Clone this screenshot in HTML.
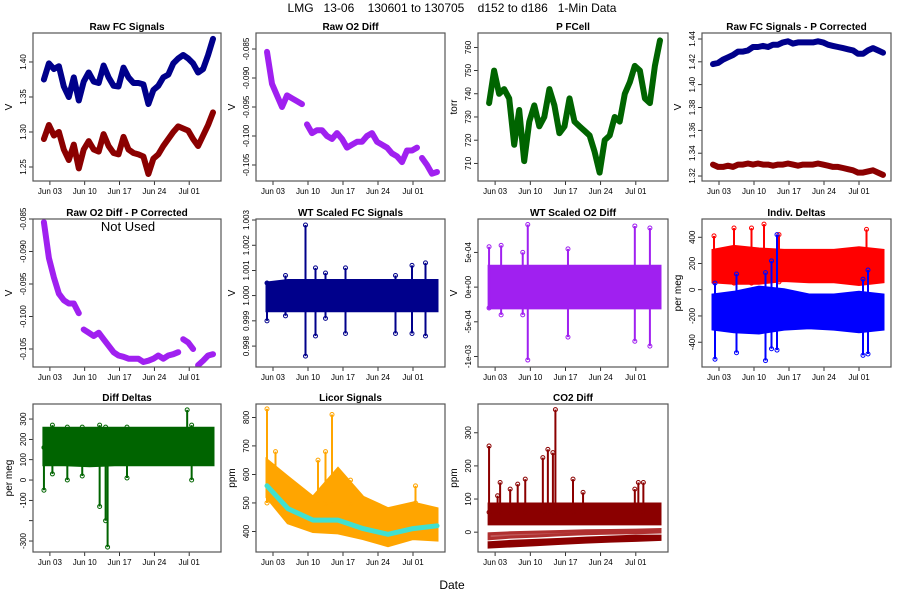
<!DOCTYPE html>
<html><head><meta charset="utf-8">
<style>
body{margin:0;background:#fff;}
svg{display:block;font-family:"Liberation Sans",Arial,sans-serif;}
</style></head>
<body>
<svg id="chart" width="900" height="600" viewBox="0 0 900 600">
<text x="452" y="12" font-size="12" text-anchor="middle" xml:space="preserve">LMG   13-06    130601 to 130705    d152 to d186   1-Min Data</text>
<text x="452" y="589" font-size="12" text-anchor="middle">Date</text>
</svg>
<script>
// ---------- data ----------
const dateTicks = ["Jun 03","Jun 10","Jun 17","Jun 24","Jul 01"];
const dateTickDays = [2,9,16,23,30];
const lineDays = [0.8,1.8,2.8,3.8,4.8,5.8,6.8,7.8,8.8,9.8,10.8,11.8,12.8,13.8,14.8,15.8,16.8,17.8,18.8,19.8,20.8,21.8,22.8,23.8,24.8,25.8,26.8,27.8,28.8,29.8,30.8,31.8,32.8,33.8,34.8];
const rawFcBlue = [1.375,1.398,1.390,1.394,1.365,1.350,1.378,1.345,1.372,1.385,1.372,1.370,1.395,1.378,1.366,1.365,1.392,1.378,1.370,1.370,1.368,1.340,1.360,1.366,1.378,1.382,1.398,1.405,1.410,1.405,1.398,1.385,1.390,1.410,1.433];
const rawFcRed = [1.290,1.310,1.295,1.300,1.275,1.260,1.282,1.248,1.275,1.287,1.275,1.272,1.297,1.280,1.270,1.268,1.293,1.275,1.270,1.268,1.265,1.240,1.262,1.268,1.280,1.290,1.300,1.308,1.305,1.302,1.290,1.280,1.295,1.310,1.328];
const rawO2 = [-0.0855,-0.091,-0.093,-0.095,-0.093,-0.0935,-0.094,-0.0945,-0.098,-0.0995,-0.099,-0.099,-0.100,-0.1005,-0.0995,-0.1005,-0.102,-0.1015,-0.101,-0.101,-0.100,-0.0995,-0.101,-0.1015,-0.102,-0.103,-0.1035,-0.1045,-0.1025,-0.1025,-0.102,-0.1038,-0.105,-0.1065,-0.1062];
const rawO2Breaks = [8,31];
const pCell = [736,750,740,742,738,718,733,711,728,735,726,730,742,735,723,726,738,728,726,724,722,715,706,720,722,730,728,740,745,752,750,738,736,752,763];
const pcBlue = [1.418,1.419,1.422,1.424,1.426,1.429,1.429,1.430,1.433,1.433,1.434,1.433,1.435,1.435,1.437,1.438,1.436,1.437,1.437,1.437,1.437,1.438,1.437,1.435,1.434,1.433,1.432,1.431,1.430,1.427,1.427,1.430,1.432,1.430,1.428];
const pcRed = [1.330,1.328,1.328,1.329,1.328,1.330,1.330,1.331,1.330,1.331,1.330,1.330,1.329,1.330,1.330,1.331,1.330,1.329,1.330,1.330,1.330,1.331,1.330,1.329,1.328,1.328,1.327,1.326,1.325,1.323,1.323,1.324,1.325,1.323,1.321];
const o2Corr = [-0.0855,-0.091,-0.094,-0.0965,-0.0975,-0.098,-0.098,-0.0995,-0.102,-0.1025,-0.103,-0.1025,-0.1035,-0.1045,-0.1055,-0.106,-0.1062,-0.1065,-0.1065,-0.1065,-0.107,-0.1068,-0.1065,-0.106,-0.1065,-0.106,-0.1058,-0.1055,-0.1035,-0.104,-0.105,-0.1075,-0.1068,-0.106,-0.1058];
const o2CorrBreaks = [8,28,31];
const bandDays = [0.8,5,10,15,20,25,30,34.8];
const wtFcHi = [1.0005,1.0006,1.0006,1.0006,1.0006,1.0006,1.0006,1.0006];
const wtFcLo = [0.9994,0.9994,0.9994,0.9994,0.9994,0.9994,0.9994,0.9994];
const wtFcSpikeDays = [0.8,4.5,8.5,10.5,12.5,16.5,26.5,29.8,32.5];
const wtFcSpikeHi = [1.0005,1.0008,1.0028,1.0011,1.0009,1.0011,1.0008,1.0012,1.0013];
const wtFcSpikeLo = [0.9990,0.9992,0.9976,0.9984,0.9991,0.9985,0.9985,0.9985,0.9984];
const wtO2Hi = [0.0003,0.0003,0.0003,0.0003,0.0003,0.0003,0.0003,0.0003];
const wtO2Lo = [-0.0003,-0.0003,-0.0003,-0.0003,-0.0003,-0.0003,-0.0003,-0.0003];
const wtO2SpikeDays = [0.8,3.2,7.5,8.5,16.5,29.8,32.8];
const wtO2SpikeHi = [0.00058,0.0006,0.0005,0.0009,0.00055,0.00088,0.00085];
const wtO2SpikeLo = [-0.0003,-0.0004,-0.0004,-0.00105,-0.00072,-0.00078,-0.00085];
const idRedHi = [300,330,310,300,300,300,320,300];
const idRedLo = [60,50,50,70,60,60,40,60];
const idBlueHi = [-40,-20,20,0,-40,-40,-20,-40];
const idBlueLo = [-300,-320,-330,-300,-290,-300,-320,-300];
const idRedSpikeDays = [1,5,8.5,11,14,31.5];
const idRedSpikeVals = [410,470,470,500,420,460];
const idBlueSpikeDays = [1.2,5.5,11.3,12.5,13.6,30.8,31.8];
const idBlueSpikeHi = [50,120,130,220,420,80,150];
const idBlueSpikeLo = [-530,-480,-540,-450,-460,-500,-490];
const ddHi = [255,255,255,255,255,255,255,255];
const ddLo = [75,75,70,75,75,75,75,75];
const ddSpikeDays = [0.8,2.5,5.5,8.5,12,13.2,13.6,17.5,29.6,30.5];
const ddSpikeHi = [160,270,260,260,270,260,250,260,345,270];
const ddSpikeLo = [-50,30,0,20,-130,-200,-330,10,160,0];
const licorHi = [650,590,520,620,520,480,500,480];
const licorLo = [520,430,400,395,375,350,375,370];
const licorCyan = [560,480,440,440,410,390,410,420];
const licorSpikeDays = [0.8,2.5,11,12.5,13.8,17.5,30.5];
const licorSpikeVals = [830,680,650,680,810,580,560];
const co2Hi = [85,85,85,85,85,85,85,85];
const co2Lo = [25,25,25,25,25,25,25,25];
const co2BandAHi = [-32,-28,-25,-22,-18,-15,-12,-12];
const co2BandALo = [-45,-42,-38,-34,-30,-27,-25,-22];
const co2BandBHi = [-5,-2,0,2,4,5,6,8];
const co2BandBLo = [-20,-15,-12,-8,-5,-3,-2,0];
const co2SpikeDays = [0.8,2.5,3,5,6.5,8,11.5,12.5,13.5,14,17.5,19.5,29.8,30.5,31.5];
const co2SpikeVals = [260,110,150,130,145,160,225,250,240,370,160,120,130,150,150];

// ---------- layout ----------
const NS="http://www.w3.org/2000/svg";
const svg=document.getElementById('chart');
function el(tag,attrs,parent){const e=document.createElementNS(NS,tag);for(const k in attrs)e.setAttribute(k,attrs[k]);(parent||svg).appendChild(e);return e;}

function makePanel(name,title,l,r,t,b,ylab,yTickVals,yTickLabels,yTop,yBot){
  const g=el('g',{});
  
  
  const p={g,l,r,t,b,
    x:d=>l+(d+1.4)*(r-l)/37.8,
    y:v=>t+(yTop-v)/(yTop-yBot)*(b-t)};
  const tt=el('text',{x:(l+r)/2,y:t-3,'font-size':10,'font-weight':'bold','text-anchor':'middle'},g);
  tt.textContent=title;
  
  
  dateTickDays.forEach((d,i)=>{
    const xx=p.x(d);
    el('line',{x1:xx,x2:xx,y1:b,y2:b+4,stroke:'#000','stroke-width':0.8},g);
    const tx=el('text',{x:xx,y:b+13,'font-size':8,'text-anchor':'middle'},g);
    tx.textContent=dateTicks[i];
    
    
  });
  el('line',{x1:p.x(dateTickDays[0]),x2:p.x(dateTickDays[4]),y1:b,y2:b,stroke:'#000','stroke-width':0.8},g);
  yTickVals.forEach((v,i)=>{
    const yy=p.y(v);
    el('line',{x1:l-4,x2:l,y1:yy,y2:yy,stroke:'#000','stroke-width':0.8},g);
    const tx=el('text',{x:l-7,y:yy,'font-size':8,'text-anchor':'middle',transform:`rotate(-90 ${l-7} ${yy})`},g);
    tx.textContent=yTickLabels[i];
    
    
  });
  el('line',{x1:l,x2:l,y1:p.y(yTickVals[0]),y2:p.y(yTickVals[yTickVals.length-1]),stroke:'#000','stroke-width':0.8},g);
  const yl=el('text',{x:l-21,y:(t+b)/2,'font-size':10,'text-anchor':'middle',transform:`rotate(-90 ${l-21} ${(t+b)/2})`},g);
  yl.textContent=ylab;
  
  
  p.clip='c'+name;
  const cp=el('clipPath',{id:p.clip},g);
  el('rect',{x:l,y:t,width:r-l,height:b-t},cp);
  p.plot=el('g',{'clip-path':`url(#${p.clip})`},g);
  p.finish=()=>{const bx=el('rect',{x:l,y:t,width:r-l,height:b-t,fill:'none',stroke:'#555','stroke-width':1.2},g);
    
    };
  return p;
}
function drawLine(p,days,vals,color,w,breaks,name){
  let segs=[[]];
  days.forEach((d,i)=>{ if(breaks&&breaks.includes(i)) segs.push([]); segs[segs.length-1].push(`${p.x(d).toFixed(1)},${p.y(vals[i]).toFixed(1)}`);});
  segs.forEach(s=>{const pl=el('polyline',{points:s.join(' '),fill:'none',stroke:color,'stroke-width':w,'stroke-linejoin':'round','stroke-linecap':'round'},p.plot);
    
    });
}
function drawBand(p,days,hi,lo,color,name,op){
  const pts=days.map((d,i)=>`${p.x(d).toFixed(1)},${p.y(hi[i]).toFixed(1)}`).concat(days.slice().reverse().map((d,j)=>{const i=days.length-1-j;return `${p.x(d).toFixed(1)},${p.y(lo[i]).toFixed(1)}`;}));
  const pg=el('polygon',{points:pts.join(' '),fill:color,stroke:color,'stroke-width':3,'fill-opacity':op||1},p.plot);
  
  
}
function drawSpikes(p,days,hi,lo,color,name){
  days.forEach((d,i)=>{
    const xx=p.x(d);
    const ln=el('line',{x1:xx,x2:xx,y1:p.y(hi[i]),y2:p.y(lo[i]),stroke:color,'stroke-width':2},p.plot);
    
    
    [hi[i],lo[i]].forEach(v=>{const c=el('circle',{cx:xx,cy:p.y(v),r:2,fill:'none',stroke:color,'stroke-width':1},p.plot);
      
      });
  });
}

// Row 1
let p=makePanel('raw-fc-signals','Raw FC Signals',33,221,33,181,'V',[1.25,1.30,1.35,1.40],['1.25','1.30','1.35','1.40'],1.4414,1.2300);
drawLine(p,lineDays,rawFcBlue,'#00008b',6,null,'series-fc-blue');
drawLine(p,lineDays,rawFcRed,'#8b0000',6,null,'series-fc-red');p.finish();

p=makePanel('raw-o2-diff','Raw O2 Diff',256,445,33,181,'V',[-0.105,-0.100,-0.095,-0.090,-0.085],['-0.105','-0.100','-0.095','-0.090','-0.085'],-0.08224,-0.10776);
drawLine(p,lineDays,rawO2,'#a020f0',6,rawO2Breaks,'series-o2-diff');p.finish();

p=makePanel('p-fcell','P FCell',478,668,33,181,'torr',[710,720,730,740,750,760],['710','720','730','740','750','760'],766.2,702.4);
drawLine(p,lineDays,pCell,'#006400',6,null,'series-pressure');p.finish();

p=makePanel('raw-fc-p-corrected','Raw FC Signals - P Corrected',702,891,33,181,'V',[1.32,1.34,1.36,1.38,1.40,1.42,1.44],['1.32','1.34','1.36','1.38','1.40','1.42','1.44'],1.44526,1.31563);
drawLine(p,lineDays,pcBlue,'#00008b',6,null,'series-fc-blue-corr');
drawLine(p,lineDays,pcRed,'#8b0000',6,null,'series-fc-red-corr');p.finish();

// Row 2
p=makePanel('raw-o2-p-corrected','Raw O2 Diff - P Corrected',33,221,219,367,'V',[-0.105,-0.100,-0.095,-0.090,-0.085],['-0.105','-0.100','-0.095','-0.090','-0.085'],-0.085,-0.10777);
drawLine(p,lineDays,o2Corr,'#a020f0',6,o2CorrBreaks,'series-o2-corr');p.finish();
let nu=el('text',{x:128,y:231,'font-size':13,'text-anchor':'middle'},p.g);nu.textContent='Not Used';



p=makePanel('wt-scaled-fc','WT Scaled FC Signals',256,445,219,367,'V',[0.998,0.999,1.000,1.001,1.002,1.003],['0.998','0.999','1.000','1.001','1.002','1.003'],1.00304,0.99717);
drawBand(p,bandDays,wtFcHi,wtFcLo,'#00008b','band-wt-fc');
drawSpikes(p,wtFcSpikeDays,wtFcSpikeHi,wtFcSpikeLo,'#00008b','spike-wt-fc');p.finish();

p=makePanel('wt-scaled-o2','WT Scaled O2 Diff',478,668,219,367,'V',[-0.001,-0.0005,0,0.0005],['-1e-03','-5e-04','0e+00','5e-04'],0.00098,-0.00115);
drawBand(p,bandDays,wtO2Hi,wtO2Lo,'#a020f0','band-wt-o2');
drawSpikes(p,wtO2SpikeDays,wtO2SpikeHi,wtO2SpikeLo,'#a020f0','spike-wt-o2');p.finish();

p=makePanel('indiv-deltas','Indiv. Deltas',702,891,219,367,'per meg',[-400,-200,0,200,400],['-400','-200','0','200','400'],539,-589);
drawBand(p,bandDays,idRedHi,idRedLo,'#ff0000','band-delta-red');
drawBand(p,bandDays,idBlueHi,idBlueLo,'#0000ff','band-delta-blue');
drawSpikes(p,idRedSpikeDays,idRedSpikeVals,idRedLo.slice(0,6),'#ff0000','spike-delta-red');
drawSpikes(p,idBlueSpikeDays,idBlueSpikeHi,idBlueSpikeLo,'#0000ff','spike-delta-blue');p.finish();

// Row 3
p=makePanel('diff-deltas','Diff Deltas',33,221,404,552,'per meg',[-300,-200,-100,0,100,200,300],['-300','','-100','0','100','200','300'],374,-354);
drawBand(p,bandDays,ddHi,ddLo,'#006400','band-diff-deltas');
drawSpikes(p,ddSpikeDays,ddSpikeHi,ddSpikeLo,'#006400','spike-diff-deltas');p.finish();

p=makePanel('licor-signals','Licor Signals',256,445,404,552,'ppm',[400,500,600,700,800],['400','500','600','700','800'],847,328);
drawBand(p,bandDays,licorHi,licorLo,'#ffa500','band-licor');
drawSpikes(p,licorSpikeDays,licorSpikeVals,licorSpikeVals.map(()=>500),'#ffa500','spike-licor');
drawLine(p,bandDays,licorCyan,'#40e0d0',5,null,'series-licor-cyan');p.finish();

p=makePanel('co2-diff','CO2 Diff',478,668,404,552,'ppm',[0,100,200,300],['0','100','200','300'],387,-60);
drawBand(p,bandDays,co2Hi,co2Lo,'#8b0000','band-co2-main');
drawBand(p,bandDays,co2BandAHi,co2BandALo,'#8b0000','band-co2-low');
drawBand(p,bandDays,co2BandBHi,co2BandBLo,'#b03030','band-co2-mid',0.8);
drawSpikes(p,co2SpikeDays,co2SpikeVals,co2SpikeVals.map(()=>60),'#8b0000','spike-co2');p.finish();
</script>
</body></html>
